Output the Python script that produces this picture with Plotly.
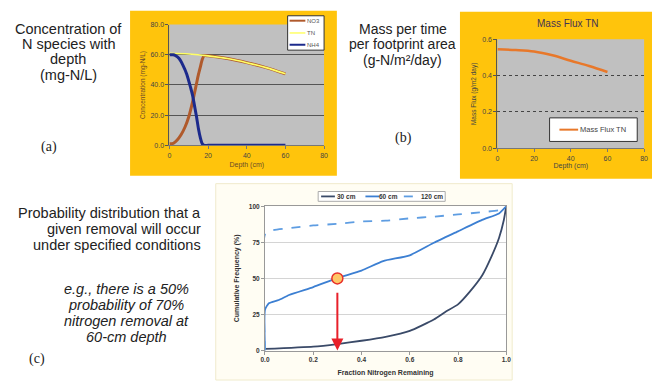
import plotly.graph_objects as go

# ---------------- data ----------------
# (a) concentration of N species vs depth
depth_no3 = [0, 2, 4, 6, 8, 10, 12, 14, 15, 16, 17, 18, 20, 30, 40, 50, 60]
no3 = [1, 1.3, 3.5, 7, 12, 19, 29, 41, 47, 52, 57, 59.5, 59.3, 57.5, 54.8, 51.5, 47.4]
depth_tn = [0, 10, 20, 30, 40, 50, 60]
tn = [61, 60.5, 59.3, 57.5, 54.8, 51.5, 47.4]
depth_nh4 = [0, 2, 3, 5, 7, 9, 11, 12, 13, 14, 15, 16, 17, 18, 20, 30, 40, 50, 60]
nh4 = [60, 60, 59.5, 57.5, 53, 47, 38, 33, 26, 19, 11, 5, 1, 0, 0, 0, 0, 0, 0]

# (b) mass flux TN vs depth
depth_flux = [0, 10, 20, 30, 40, 50, 60]
flux_tn = [0.545, 0.541, 0.533, 0.512, 0.482, 0.453, 0.42]

# (c) cumulative frequency vs fraction nitrogen remaining
frac_30 = [0, 0.2, 0.3, 0.4, 0.5, 0.6, 0.7, 0.75, 0.8, 0.85, 0.9, 0.94, 0.97, 0.99, 1.0]
cum_30 = [1.1, 2.7, 4.5, 6.8, 9.5, 13.6, 21.5, 27, 32, 41, 52, 65.6, 78, 90.5, 100]
frac_60 = [0, 0, 0.016, 0.057, 0.1, 0.2, 0.3, 0.4, 0.49, 0.6, 0.7, 0.8, 0.9, 0.97, 1.0]
cum_60 = [0, 28.3, 32.8, 35, 38.5, 44, 50.2, 55.4, 62, 66, 74.7, 82.6, 90.5, 95, 100]
frac_120 = [0, 0, 0.03, 0.1, 0.2, 0.3, 0.4, 0.5, 0.6, 0.7, 0.8, 0.9, 0.97, 1.0]
cum_120 = [0, 80.3, 83.3, 84.8, 86.7, 87.8, 89.4, 90, 91.6, 92.8, 94.3, 95.9, 97.3, 100]
highlight_frac = 0.3
highlight_cum = 50

series_a = ["NO3", "TN", "NH4"]
series_b = ["Mass Flux TN"]
series_c = ["30 cm", "60 cm", "120 cm"]

# ---------------- layout helpers ----------------
W, H = 657, 383
def fx(p):
    return p / W
def fy(p):
    return 1 - p / H

SANS = "Liberation Sans, Arial, sans-serif"
SERIF = "Liberation Serif, Times New Roman, serif"
YEL = "#ffc40c"
C_NO3, C_TN, C_NH4 = "#b05a2c", "#ffff66", "#1c2a8c"
C_FLUX = "#e8782a"
C_30, C_60, C_120 = "#3a4a68", "#3c7fd2", "#5e9de2"

fig = go.Figure()

# (a) traces
fig.add_trace(go.Scatter(x=depth_no3, y=no3, mode="lines", name=series_a[0],
                         line=dict(color=C_NO3, width=3, shape="spline", smoothing=0.6), xaxis="x", yaxis="y"))
fig.add_trace(go.Scatter(x=depth_tn, y=tn, mode="lines", name=series_a[1],
                         line=dict(color=C_TN, width=1.6, shape="spline"), xaxis="x", yaxis="y"))
fig.add_trace(go.Scatter(x=depth_nh4, y=nh4, mode="lines", name=series_a[2],
                         line=dict(color=C_NH4, width=3, shape="spline", smoothing=0.6), xaxis="x", yaxis="y"))

# (b) trace
fig.add_trace(go.Scatter(x=depth_flux, y=flux_tn, mode="lines", name=series_b[0],
                         line=dict(color=C_FLUX, width=2.5, shape="spline"), xaxis="x2", yaxis="y2"))

# (c) traces
fig.add_trace(go.Scatter(x=frac_30, y=cum_30, mode="lines", name=series_c[0],
                         line=dict(color=C_30, width=1.8, shape="spline", smoothing=0.5), xaxis="x3", yaxis="y3"))
fig.add_trace(go.Scatter(x=frac_60, y=cum_60, mode="lines", name=series_c[1],
                         line=dict(color=C_60, width=1.8, shape="spline", smoothing=0.5), xaxis="x3", yaxis="y3"))
fig.add_trace(go.Scatter(x=frac_120, y=cum_120, mode="lines", name=series_c[2],
                         line=dict(color=C_120, width=1.8, dash="dash", shape="spline", smoothing=0.5),
                         xaxis="x3", yaxis="y3"))
fig.add_trace(go.Scatter(x=[highlight_frac], y=[highlight_cum], mode="markers", showlegend=False,
                         marker=dict(size=11, color="#ffc766", line=dict(color="#e8302a", width=1.5)),
                         xaxis="x3", yaxis="y3"))

tickfont_a = dict(family=SANS, size=7, color="#444")
axis_common = dict(showline=True, ticks="outside", ticklen=3, zeroline=False)

layout = dict(
    width=W, height=H, margin=dict(l=0, r=0, t=0, b=0),
    paper_bgcolor="white", plot_bgcolor="rgba(0,0,0,0)",
    showlegend=False,
    # (a)
    xaxis=dict(domain=[fx(167), fx(324)], range=[0, 80], dtick=20, anchor="y",
               tickfont=tickfont_a, linecolor="#777", tickcolor="#777", showgrid=False,
               title=dict(text="Depth (cm)", font=dict(family=SANS, size=7, color="#6b4a2a"), standoff=4),
               **axis_common),
    yaxis=dict(domain=[fy(144), fy(21)], range=[0, 80], dtick=20, tickformat=".1f", anchor="x",
               tickfont=tickfont_a, linecolor="#555", tickcolor="#555", showgrid=True,
               gridcolor="#555", gridwidth=1,
               title=dict(text="Concentration (mg-N/L)", font=dict(family=SANS, size=6.5, color="#6b4a2a"), standoff=4),
               **axis_common),
    # (b)
    xaxis2=dict(domain=[fx(500), fx(649)], range=[0, 80], dtick=20, anchor="y2",
                tickfont=tickfont_a, linecolor="#777", tickcolor="#777", showgrid=False,
                title=dict(text="Depth (cm)", font=dict(family=SANS, size=7, color="#444"), standoff=2),
                **axis_common),
    yaxis2=dict(domain=[fy(147), fy(36)], range=[0, 0.6], dtick=0.2, tickformat=".1f", anchor="x2",
                tickfont=tickfont_a, linecolor="#555", tickcolor="#555", showgrid=True,
                gridcolor="#444", gridwidth=1, griddash="dot",
                title=dict(text="Mass Flux (g/m2 day)", font=dict(family=SANS, size=6.5, color="#444"), standoff=4),
                **axis_common),
    # (c)
    xaxis3=dict(domain=[fx(264), fx(509)], range=[0, 1], dtick=0.2, tickformat=".1f", anchor="y3",
                tickfont=dict(family=SANS, size=6.5, color="#333", weight="bold"),
                linecolor="#999", tickcolor="#999", mirror=True, showgrid=False,
                title=dict(text="<b>Fraction Nitrogen Remaining</b>", font=dict(family=SANS, size=7, color="#333"), standoff=7),
                **axis_common),
    yaxis3=dict(domain=[fy(353), fy(206)], range=[0, 100], dtick=25, anchor="x3",
                tickfont=dict(family=SANS, size=6.5, color="#333", weight="bold"),
                linecolor="#999", tickcolor="#999", mirror=True, showgrid=True, gridcolor="#d4d4d4",
                title=dict(text="<b>Cumulative Frequency (%)</b>", font=dict(family=SANS, size=7, color="#333"), standoff=8),
                **axis_common),
)
fig.update_layout(**layout)

shapes = [
    dict(type="rect", xref="paper", yref="paper", x0=fx(127), x1=fx(337), y0=fy(175), y1=fy(7),
         fillcolor=YEL, line=dict(width=0), layer="below"),
    dict(type="rect", xref="x domain", yref="y domain", x0=0, x1=1, y0=0, y1=1,
         fillcolor="#c0c0c0", line=dict(width=0), layer="below"),
    dict(type="rect", xref="paper", yref="paper", x0=fx(462), x1=fx(657), y0=fy(178), y1=fy(8),
         fillcolor=YEL, line=dict(width=0), layer="below"),
    dict(type="rect", xref="x2 domain", yref="y2 domain", x0=0, x1=1, y0=0, y1=1,
         fillcolor="#c0c0c0", line=dict(width=0), layer="below"),
    dict(type="rect", xref="paper", yref="paper", x0=fx(214), x1=fx(515), y0=fy(383), y1=fy(183),
         fillcolor="#fffdf3", line=dict(color="#f0ebcc", width=1), layer="below"),
    dict(type="rect", xref="x3 domain", yref="y3 domain", x0=0, x1=1, y0=0, y1=1,
         fillcolor="white", line=dict(width=0), layer="below"),
    # legend boxes
    dict(type="rect", xref="paper", yref="paper", x0=fx(287), x1=fx(324), y0=fy(47), y1=fy(12),
         fillcolor="white", line=dict(color="#333", width=1)),
    dict(type="rect", xref="paper", yref="paper", x0=fx(553), x1=fx(642), y0=fy(140), y1=fy(116),
         fillcolor="white", line=dict(color="#333", width=1)),
    dict(type="rect", xref="paper", yref="paper", x0=fx(318), x1=fx(447), y0=fy(201), y1=fy(191),
         fillcolor="white", line=dict(color="#aaa", width=1)),
]

ann = []
def txt(text, x, y, size=14, family=SANS, align="center", xanchor="center", color="#222"):
    ann.append(dict(text=text, x=fx(x), y=fy(y), xref="paper", yref="paper", showarrow=False,
                    xanchor=xanchor, yanchor="middle", align=align, borderpad=0,
                    font=dict(family=family, size=size, color=color)))

def lines(text_lines, x, y0, step, **kw):
    for i, t in enumerate(text_lines):
        txt(t, x, y0 + i * step, **kw)

def legline(x0, x1, y, color, width, dash="solid"):
    shapes.append(dict(type="line", xref="paper", yref="paper", x0=fx(x0), x1=fx(x1), y0=fy(y), y1=fy(y),
                       line=dict(color=color, width=width, dash=dash)))

# legend (a)
for name, color, w, yy in zip(series_a, [C_NO3, C_TN, C_NH4], [2, 1.5, 2], [17, 29.5, 41.5]):
    legline(289, 305, yy, color, w)
    txt(name, 306, yy, size=6, xanchor="left", color="#555")
# legend (b)
legline(563, 582, 128, C_FLUX, 2)
txt(series_b[0], 583, 128, size=7.5, xanchor="left", color="#444")
# legend (c)
for name, color, dash, lx, tx in zip(series_c, [C_30, C_60, C_120], ["solid", "solid", "dash"],
                                      [321, 366, 405], [336, 379, 421]):
    legline(lx, lx + 14, 196, color, 1.8, dash)
    txt("<b>" + name + "</b>", tx, 196, size=6.5, xanchor="left", color="#333")

fig.update_layout(shapes=shapes)

lines(["Concentration of", "N species with", "depth", "(mg-N/L)"], 64, 25, 15.7, size=14.5)
txt("(a)", 45, 146, size=14, family=SERIF)
lines(["Mass per time", "per footprint area", "(g-N/m²/day)"], 404, 25, 16.2, size=14)
txt("(b)", 405, 137, size=14, family=SERIF)
lines(["Probability distribution that a", "given removal will occur", "under specified conditions"],
      200, 213, 16.2, size=14.5, xanchor="right")
lines(["<i>e.g., there is a 50%</i>", "<i>probability of 70%</i>", "<i>nitrogen removal at</i>",
       "<i>60-cm depth</i>"], 123, 290, 16.4, size=14.5)
txt("(c)", 33, 362, size=14, family=SERIF)
txt("Mass Flux TN", 572, 20, size=10, color="#443355")

# arrow from highlighted point down to x-axis
ann.append(dict(x=highlight_frac, y=0, ax=highlight_frac, ay=highlight_cum - 3,
                xref="x3", yref="y3", axref="x3", ayref="y3", showarrow=True,
                arrowhead=2, arrowsize=1.2, arrowwidth=2, arrowcolor="#e8202a", text=" "))
fig.update_layout(annotations=ann)

fig.write_html("out.html", post_script="document.body.style.margin='0px';",
               config={"displayModeBar": False})
